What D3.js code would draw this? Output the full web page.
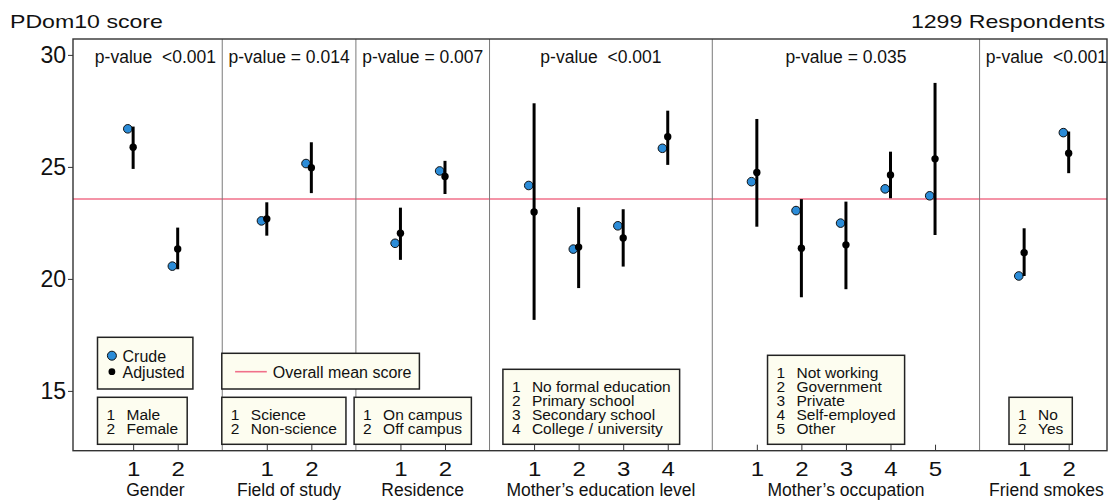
<!DOCTYPE html>
<html lang="en">
<head>
<meta charset="UTF-8">
<script src="https://d3js.org/d3.v7.min.js"></script>
<title>PDom10 score</title>
<style>
  body { margin: 0; background: #fff; }
  text { font-family: "Liberation Sans", Arial, sans-serif; fill: #111; white-space: pre; }
</style>
</head>
<body>
<div id="container"></div>
<script>
// data
var groups = ["Gender", "Field of study", "Residence", "Mother\u2019s education level", "Mother\u2019s occupation", "Friend smokes"];
var pValues = ["p-value  <0.001", "p-value = 0.014", "p-value = 0.007", "p-value  <0.001", "p-value = 0.035", "p-value  <0.001"];
var levelLabels = [
  ["Male", "Female"],
  ["Science", "Non-science"],
  ["On campus", "Off campus"],
  ["No formal education", "Primary school", "Secondary school", "College / university"],
  ["Not working", "Government", "Private", "Self-employed", "Other"],
  ["No", "Yes"]
];
var crude    = [[26.70, 20.57], [22.59, 25.15], [21.59, 24.82], [24.17, 21.33, 22.37, 25.83], [24.34, 23.05, 22.49, 24.02, 23.71], [20.13, 26.53]];
var adjusted = [[25.88, 21.34], [22.68, 24.96], [22.04, 24.57], [22.99, 21.42, 21.83, 26.35], [24.75, 21.37, 21.52, 24.64, 25.36], [21.17, 25.61]];
var lower    = [[24.91, 20.43], [21.93, 23.83], [20.85, 23.79], [18.17, 19.59, 20.55, 25.09], [22.33, 19.18, 19.54, 23.60, 21.96], [20.13, 24.72]];
var upper    = [[26.80, 22.29], [23.42, 26.10], [23.18, 25.27], [27.84, 23.20, 23.11, 27.51], [27.14, 23.56, 23.45, 25.68, 28.75], [22.26, 26.58]];
var overallMean = 23.57;
var yTicks = [15, 20, 25, 30];
var respondents = 1299;

var width = 1115, height = 501;
var plotL = 73, plotR = 1107, plotT = 39, plotB = 450.7;
var blue = "#2b8cd8", meanColor = "#f0708a", boxFill = "#fdfdf0";
// left edge of each label box, in x index units
var boxLeft = [-0.80, 1.99, 4.96, 8.30, 14.24, 19.66];

// positions: levels of a group are 1 apart, a divider sits between groups
var pts = [], dividers = [], centers = [], pos = 0;
groups.forEach(function(g, gi) {
  var n = levelLabels[gi].length;
  for (var i = 0; i < n; i++) {
    pts.push({g: gi, lvl: i + 1, x: pos + i, crude: crude[gi][i], adj: adjusted[gi][i], lo: lower[gi][i], hi: upper[gi][i]});
  }
  centers.push(pos + (n - 1) / 2);
  if (gi < groups.length - 1) dividers.push(pos + n);
  pos += n + 1;
});

var x = d3.scaleLinear().domain([-1.35, 21.86]).range([plotL, plotR]);
var y = d3.scaleLinear().domain([12.33, 30.71]).range([plotB, plotT]);

var svg = d3.select("#container").append("svg")
  .attr("width", width).attr("height", height);
svg.append("rect").attr("width", width).attr("height", height).attr("fill", "#fff");

// stretched text helper
function label(sel, txt, px, py, size, sx, anchor) {
  return sel.append("text")
    .attr("transform", "translate(" + px + "," + py + ") scale(" + sx + ",1)")
    .attr("text-anchor", anchor || "start")
    .style("font-size", size + "px")
    .text(txt);
}

// mean line
svg.append("line")
  .attr("x1", plotL).attr("x2", plotR)
  .attr("y1", y(overallMean)).attr("y2", y(overallMean))
  .attr("stroke", meanColor).attr("stroke-width", 1.6);

// panel dividers
svg.selectAll(".div").data(dividers).enter().append("line")
  .attr("x1", function(d) { return x(d); }).attr("x2", function(d) { return x(d); })
  .attr("y1", plotT).attr("y2", plotB)
  .attr("stroke", "#7a7a7a").attr("stroke-width", 1);

// crude points
svg.selectAll(".crude").data(pts).enter().append("circle")
  .attr("cx", function(d) { return x(d.x - 0.12); })
  .attr("cy", function(d) { return y(d.crude); })
  .attr("r", 4.3)
  .attr("fill", blue).attr("stroke", "#111").attr("stroke-width", 1);

// confidence intervals
svg.selectAll(".ci").data(pts).enter().append("line")
  .attr("x1", function(d) { return x(d.x); }).attr("x2", function(d) { return x(d.x); })
  .attr("y1", function(d) { return y(d.lo); }).attr("y2", function(d) { return y(d.hi); })
  .attr("stroke", "#000").attr("stroke-width", 3);

// adjusted points
svg.selectAll(".adj").data(pts).enter().append("circle")
  .attr("cx", function(d) { return x(d.x); })
  .attr("cy", function(d) { return y(d.adj); })
  .attr("r", 3.7).attr("fill", "#000");

// y axis
var yAxis = svg.append("g").attr("transform", "translate(" + plotL + ",0)")
  .call(d3.axisLeft(y).tickValues(yTicks).tickSize(5).tickPadding(2));
yAxis.select(".domain").remove();
yAxis.selectAll("line").attr("stroke", "#333");
yAxis.selectAll("text").style("font-size", "23px").style("font-family", "Liberation Sans, Arial, sans-serif").attr("fill", "#111");

// x axis, ticks inward
var xAxis = svg.append("g").attr("transform", "translate(0," + plotB + ")")
  .call(d3.axisBottom(x).tickValues(pts.map(function(d) { return d.x; }))
    .tickFormat(function(v) { return pts.find(function(p) { return p.x === v; }).lvl; })
    .tickSize(-6).tickPadding(11));
xAxis.select(".domain").remove();
xAxis.selectAll("line").attr("stroke", "#333");
xAxis.selectAll("text").style("font-size", "20px").style("font-family", "Liberation Sans, Arial, sans-serif")
  .attr("fill", "#111").attr("transform", "scale(1.2,1)");

// frame
svg.append("rect").attr("x", plotL).attr("y", plotT)
  .attr("width", plotR - plotL).attr("height", plotB - plotT)
  .attr("fill", "none").attr("stroke", "#333").attr("stroke-width", 1.4);

// p-values and group names
groups.forEach(function(g, gi) {
  label(svg, pValues[gi], x(centers[gi]), 62.7, 17.5, 1, "middle");
  label(svg, g, x(centers[gi]), 496, 17.5, 1, "middle");
});

// titles
label(svg, "PDom10 score", 10, 28.3, 18.5, 1.25, "start");
label(svg, respondents + " Respondents", 1105, 28.3, 18.5, 1.25, "end");

// label boxes
var boxBottom = 444.3, lineH = 14;
levelLabels.forEach(function(labs, gi) {
  var bx = x(boxLeft[gi]);
  var h = 19 + lineH * labs.length;
  var g = svg.append("g");
  var rect = g.append("rect").attr("x", bx).attr("y", boxBottom - h).attr("height", h)
    .attr("fill", boxFill).attr("stroke", "#222").attr("stroke-width", 1.5);
  var maxW = 0;
  labs.forEach(function(t, i) {
    var by = boxBottom - h + 22.5 + i * lineH;
    label(g, String(i + 1), bx + 9, by, 15.5, 1, "start");
    var tx = label(g, t, bx + 29, by, 15.5, 1, "start");
    maxW = Math.max(maxW, tx.node().getComputedTextLength());
  });
  rect.attr("width", 29 + maxW + 9);
});

// crude / adjusted legend
var lg = svg.append("g");
var lx = x(boxLeft[0]);
lg.append("rect").attr("x", lx).attr("y", 337.3).attr("width", 95.4).attr("height", 51.7)
  .attr("fill", boxFill).attr("stroke", "#222").attr("stroke-width", 1.5);
lg.append("circle").attr("cx", lx + 14.4).attr("cy", 355.7).attr("r", 4.5)
  .attr("fill", blue).attr("stroke", "#111").attr("stroke-width", 1);
lg.append("circle").attr("cx", lx + 14.4).attr("cy", 371.7).attr("r", 3.4).attr("fill", "#000");
label(lg, "Crude", lx + 25, 361.7, 16, 1, "start");
label(lg, "Adjusted", lx + 25, 377.7, 16, 1, "start");

// mean legend
var mx = x(boxLeft[1]);
lg.append("rect").attr("x", mx).attr("y", 353.3).attr("width", 197.6).attr("height", 35.7)
  .attr("fill", boxFill).attr("stroke", "#222").attr("stroke-width", 1.5);
lg.append("line").attr("x1", mx + 13.3).attr("x2", mx + 45).attr("y1", 371.7).attr("y2", 371.7)
  .attr("stroke", meanColor).attr("stroke-width", 1.6);
label(lg, "Overall mean score", mx + 51, 377.7, 16, 1, "start");
</script>
</body>
</html>
